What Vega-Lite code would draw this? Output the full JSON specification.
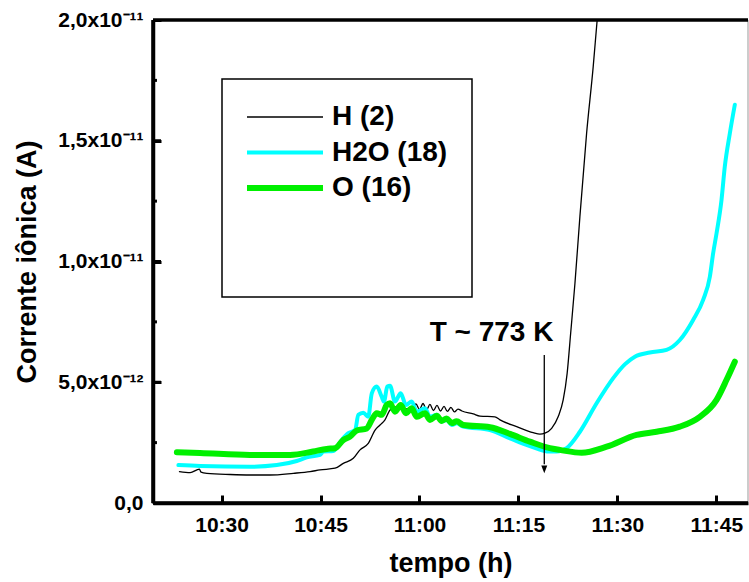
{
  "$schema": "https://vega.github.io/schema/vega-lite/v6.json",
  "width": 595,
  "height": 483,
  "autosize": {"type": "none"},
  "padding": {"left": 153, "top": 20, "right": 1, "bottom": 79},
  "config": {
    "view": {"stroke": null},
    "font": "Liberation Sans",
    "axis": {
      "grid": false,
      "zindex": 1,
      "domainColor": "black",
      "domainWidth": 3.5,
      "tickColor": "black",
      "tickWidth": 3,
      "labelFont": "Liberation Sans",
      "labelFontWeight": "bold",
      "labelFontSize": 21,
      "labelColor": "black",
      "labelOverlap": false,
      "titleFont": "Liberation Sans",
      "titleFontWeight": "bold",
      "titleFontSize": 27,
      "titleColor": "black"
    },
    "legend": {"strokeWidth": 1.5}
  },
  "data": {
    "format": {"parse": {"t": "date:'%H:%M:%S'"}},
    "values": [
      {"ion": "H (2)", "t": "10:23:37", "corrente": 1.30e-12},
      {"ion": "H (2)", "t": "10:25:14", "corrente": 1.26e-12},
      {"ion": "H (2)", "t": "10:26:38", "corrente": 1.40e-12},
      {"ion": "H (2)", "t": "10:26:53", "corrente": 1.28e-12},
      {"ion": "H (2)", "t": "10:27:46", "corrente": 1.23e-12},
      {"ion": "H (2)", "t": "10:31:17", "corrente": 1.18e-12},
      {"ion": "H (2)", "t": "10:34:19", "corrente": 1.16e-12},
      {"ion": "H (2)", "t": "10:37:21", "corrente": 1.16e-12},
      {"ion": "H (2)", "t": "10:40:53", "corrente": 1.23e-12},
      {"ion": "H (2)", "t": "10:43:25", "corrente": 1.30e-12},
      {"ion": "H (2)", "t": "10:44:55", "corrente": 1.37e-12},
      {"ion": "H (2)", "t": "10:47:12", "corrente": 1.44e-12},
      {"ion": "H (2)", "t": "10:48:27", "corrente": 1.64e-12},
      {"ion": "H (2)", "t": "10:49:58", "corrente": 1.85e-12},
      {"ion": "H (2)", "t": "10:50:59", "corrente": 2.20e-12},
      {"ion": "H (2)", "t": "10:52:14", "corrente": 2.47e-12},
      {"ion": "H (2)", "t": "10:53:16", "corrente": 3.02e-12},
      {"ion": "H (2)", "t": "10:54:01", "corrente": 3.23e-12},
      {"ion": "H (2)", "t": "10:54:46", "corrente": 3.44e-12},
      {"ion": "H (2)", "t": "10:55:32", "corrente": 3.85e-12},
      {"ion": "H (2)", "t": "10:56:33", "corrente": 3.99e-12},
      {"ion": "H (2)", "t": "10:57:30", "corrente": 3.89e-12},
      {"ion": "H (2)", "t": "10:58:34", "corrente": 3.92e-12},
      {"ion": "H (2)", "t": "10:59:28", "corrente": 4.10e-12},
      {"ion": "H (2)", "t": "11:00:00", "corrente": 3.87e-12},
      {"ion": "H (2)", "t": "11:00:32", "corrente": 4.12e-12},
      {"ion": "H (2)", "t": "11:01:04", "corrente": 3.85e-12},
      {"ion": "H (2)", "t": "11:01:35", "corrente": 4.08e-12},
      {"ion": "H (2)", "t": "11:02:07", "corrente": 3.83e-12},
      {"ion": "H (2)", "t": "11:02:39", "corrente": 4.04e-12},
      {"ion": "H (2)", "t": "11:03:11", "corrente": 3.81e-12},
      {"ion": "H (2)", "t": "11:03:43", "corrente": 4.00e-12},
      {"ion": "H (2)", "t": "11:04:14", "corrente": 3.79e-12},
      {"ion": "H (2)", "t": "11:04:46", "corrente": 3.96e-12},
      {"ion": "H (2)", "t": "11:05:18", "corrente": 3.77e-12},
      {"ion": "H (2)", "t": "11:05:50", "corrente": 3.89e-12},
      {"ion": "H (2)", "t": "11:06:26", "corrente": 3.81e-12},
      {"ion": "H (2)", "t": "11:08:09", "corrente": 3.69e-12},
      {"ion": "H (2)", "t": "11:09:10", "corrente": 3.60e-12},
      {"ion": "H (2)", "t": "11:11:26", "corrente": 3.57e-12},
      {"ion": "H (2)", "t": "11:12:12", "corrente": 3.44e-12},
      {"ion": "H (2)", "t": "11:14:44", "corrente": 3.16e-12},
      {"ion": "H (2)", "t": "11:17:14", "corrente": 2.91e-12},
      {"ion": "H (2)", "t": "11:18:16", "corrente": 2.85e-12},
      {"ion": "H (2)", "t": "11:19:01", "corrente": 2.89e-12},
      {"ion": "H (2)", "t": "11:20:02", "corrente": 3.09e-12},
      {"ion": "H (2)", "t": "11:21:02", "corrente": 3.58e-12},
      {"ion": "H (2)", "t": "11:21:47", "corrente": 4.27e-12},
      {"ion": "H (2)", "t": "11:22:23", "corrente": 5.37e-12},
      {"ion": "H (2)", "t": "11:22:55", "corrente": 7.03e-12},
      {"ion": "H (2)", "t": "11:23:34", "corrente": 9.10e-12},
      {"ion": "H (2)", "t": "11:24:19", "corrente": 11.86e-12},
      {"ion": "H (2)", "t": "11:25:20", "corrente": 15.31e-12},
      {"ion": "H (2)", "t": "11:26:20", "corrente": 18.07e-12},
      {"ion": "H (2)", "t": "11:26:56", "corrente": 20.00e-12},
      {"ion": "H (2)", "t": "11:27:21", "corrente": 21.25e-12},

      {"ion": "H2O (18)", "t": "10:23:27", "corrente": 1.57e-12},
      {"ion": "H2O (18)", "t": "10:26:44", "corrente": 1.53e-12},
      {"ion": "H2O (18)", "t": "10:34:19", "corrente": 1.50e-12},
      {"ion": "H2O (18)", "t": "10:38:22", "corrente": 1.57e-12},
      {"ion": "H2O (18)", "t": "10:41:23", "corrente": 1.74e-12},
      {"ion": "H2O (18)", "t": "10:42:55", "corrente": 1.89e-12},
      {"ion": "H2O (18)", "t": "10:44:55", "corrente": 1.99e-12},
      {"ion": "H2O (18)", "t": "10:45:25", "corrente": 2.13e-12},
      {"ion": "H2O (18)", "t": "10:46:56", "corrente": 2.15e-12},
      {"ion": "H2O (18)", "t": "10:48:13", "corrente": 2.61e-12},
      {"ion": "H2O (18)", "t": "10:49:13", "corrente": 2.89e-12},
      {"ion": "H2O (18)", "t": "10:50:14", "corrente": 3.02e-12},
      {"ion": "H2O (18)", "t": "10:50:44", "corrente": 3.65e-12},
      {"ion": "H2O (18)", "t": "10:51:29", "corrente": 3.74e-12},
      {"ion": "H2O (18)", "t": "10:52:14", "corrente": 3.57e-12},
      {"ion": "H2O (18)", "t": "10:52:46", "corrente": 4.54e-12},
      {"ion": "H2O (18)", "t": "10:53:31", "corrente": 4.82e-12},
      {"ion": "H2O (18)", "t": "10:54:16", "corrente": 4.40e-12},
      {"ion": "H2O (18)", "t": "10:54:37", "corrente": 4.20e-12},
      {"ion": "H2O (18)", "t": "10:55:07", "corrente": 4.82e-12},
      {"ion": "H2O (18)", "t": "10:55:32", "corrente": 4.85e-12},
      {"ion": "H2O (18)", "t": "10:56:17", "corrente": 4.20e-12},
      {"ion": "H2O (18)", "t": "10:57:09", "corrente": 4.54e-12},
      {"ion": "H2O (18)", "t": "10:57:57", "corrente": 4.06e-12},
      {"ion": "H2O (18)", "t": "10:58:49", "corrente": 4.20e-12},
      {"ion": "H2O (18)", "t": "10:59:35", "corrente": 3.78e-12},
      {"ion": "H2O (18)", "t": "11:00:50", "corrente": 3.92e-12},
      {"ion": "H2O (18)", "t": "11:01:35", "corrente": 3.57e-12},
      {"ion": "H2O (18)", "t": "11:02:37", "corrente": 3.65e-12},
      {"ion": "H2O (18)", "t": "11:03:22", "corrente": 3.37e-12},
      {"ion": "H2O (18)", "t": "11:04:07", "corrente": 3.44e-12},
      {"ion": "H2O (18)", "t": "11:04:53", "corrente": 3.23e-12},
      {"ion": "H2O (18)", "t": "11:05:38", "corrente": 3.30e-12},
      {"ion": "H2O (18)", "t": "11:06:38", "corrente": 3.16e-12},
      {"ion": "H2O (18)", "t": "11:10:41", "corrente": 3.02e-12},
      {"ion": "H2O (18)", "t": "11:13:43", "corrente": 2.68e-12},
      {"ion": "H2O (18)", "t": "11:16:44", "corrente": 2.36e-12},
      {"ion": "H2O (18)", "t": "11:19:46", "corrente": 2.13e-12},
      {"ion": "H2O (18)", "t": "11:20:47", "corrente": 2.13e-12},
      {"ion": "H2O (18)", "t": "11:22:18", "corrente": 2.27e-12},
      {"ion": "H2O (18)", "t": "11:24:19", "corrente": 2.95e-12},
      {"ion": "H2O (18)", "t": "11:26:51", "corrente": 4.13e-12},
      {"ion": "H2O (18)", "t": "11:29:22", "corrente": 5.17e-12},
      {"ion": "H2O (18)", "t": "11:31:10", "corrente": 5.75e-12},
      {"ion": "H2O (18)", "t": "11:32:39", "corrente": 6.06e-12},
      {"ion": "H2O (18)", "t": "11:34:55", "corrente": 6.23e-12},
      {"ion": "H2O (18)", "t": "11:37:27", "corrente": 6.34e-12},
      {"ion": "H2O (18)", "t": "11:39:28", "corrente": 6.75e-12},
      {"ion": "H2O (18)", "t": "11:41:29", "corrente": 7.58e-12},
      {"ion": "H2O (18)", "t": "11:43:00", "corrente": 8.41e-12},
      {"ion": "H2O (18)", "t": "11:44:01", "corrente": 9.37e-12},
      {"ion": "H2O (18)", "t": "11:44:31", "corrente": 10.34e-12},
      {"ion": "H2O (18)", "t": "11:45:02", "corrente": 11.17e-12},
      {"ion": "H2O (18)", "t": "11:45:47", "corrente": 12.55e-12},
      {"ion": "H2O (18)", "t": "11:46:17", "corrente": 13.93e-12},
      {"ion": "H2O (18)", "t": "11:47:03", "corrente": 15.31e-12},
      {"ion": "H2O (18)", "t": "11:47:48", "corrente": 16.49e-12},

      {"ion": "O (16)", "t": "10:23:13", "corrente": 2.10e-12},
      {"ion": "O (16)", "t": "10:26:44", "corrente": 2.07e-12},
      {"ion": "O (16)", "t": "10:34:19", "corrente": 1.99e-12},
      {"ion": "O (16)", "t": "10:40:23", "corrente": 1.99e-12},
      {"ion": "O (16)", "t": "10:43:52", "corrente": 2.13e-12},
      {"ion": "O (16)", "t": "10:45:56", "corrente": 2.24e-12},
      {"ion": "O (16)", "t": "10:47:12", "corrente": 2.27e-12},
      {"ion": "O (16)", "t": "10:48:27", "corrente": 2.61e-12},
      {"ion": "O (16)", "t": "10:49:28", "corrente": 2.75e-12},
      {"ion": "O (16)", "t": "10:50:29", "corrente": 3.00e-12},
      {"ion": "O (16)", "t": "10:52:00", "corrente": 3.09e-12},
      {"ion": "O (16)", "t": "10:52:46", "corrente": 3.44e-12},
      {"ion": "O (16)", "t": "10:53:31", "corrente": 3.72e-12},
      {"ion": "O (16)", "t": "10:54:16", "corrente": 3.65e-12},
      {"ion": "O (16)", "t": "10:55:02", "corrente": 4.06e-12},
      {"ion": "O (16)", "t": "10:55:32", "corrente": 4.13e-12},
      {"ion": "O (16)", "t": "10:56:17", "corrente": 3.78e-12},
      {"ion": "O (16)", "t": "10:57:09", "corrente": 4.06e-12},
      {"ion": "O (16)", "t": "10:57:57", "corrente": 3.72e-12},
      {"ion": "O (16)", "t": "10:58:49", "corrente": 3.92e-12},
      {"ion": "O (16)", "t": "10:59:35", "corrente": 3.57e-12},
      {"ion": "O (16)", "t": "11:00:50", "corrente": 3.72e-12},
      {"ion": "O (16)", "t": "11:01:35", "corrente": 3.44e-12},
      {"ion": "O (16)", "t": "11:02:37", "corrente": 3.61e-12},
      {"ion": "O (16)", "t": "11:03:22", "corrente": 3.40e-12},
      {"ion": "O (16)", "t": "11:04:07", "corrente": 3.50e-12},
      {"ion": "O (16)", "t": "11:04:53", "corrente": 3.31e-12},
      {"ion": "O (16)", "t": "11:05:38", "corrente": 3.38e-12},
      {"ion": "O (16)", "t": "11:06:38", "corrente": 3.23e-12},
      {"ion": "O (16)", "t": "11:10:41", "corrente": 3.14e-12},
      {"ion": "O (16)", "t": "11:13:43", "corrente": 2.86e-12},
      {"ion": "O (16)", "t": "11:16:44", "corrente": 2.54e-12},
      {"ion": "O (16)", "t": "11:19:46", "corrente": 2.27e-12},
      {"ion": "O (16)", "t": "11:21:17", "corrente": 2.20e-12},
      {"ion": "O (16)", "t": "11:24:35", "corrente": 2.08e-12},
      {"ion": "O (16)", "t": "11:28:22", "corrente": 2.33e-12},
      {"ion": "O (16)", "t": "11:32:55", "corrente": 2.82e-12},
      {"ion": "O (16)", "t": "11:35:56", "corrente": 2.95e-12},
      {"ion": "O (16)", "t": "11:39:28", "corrente": 3.16e-12},
      {"ion": "O (16)", "t": "11:42:30", "corrente": 3.57e-12},
      {"ion": "O (16)", "t": "11:45:02", "corrente": 4.27e-12},
      {"ion": "O (16)", "t": "11:46:33", "corrente": 5.10e-12},
      {"ion": "O (16)", "t": "11:47:48", "corrente": 5.85e-12}
    ]
  },
  "layer": [
    {
      "mark": {"type": "line", "clip": true, "strokeJoin": "round", "strokeCap": "round", "interpolate": "monotone"},
      "encoding": {
        "x": {
          "field": "t", "type": "temporal",
          "scale": {"domain": [
            {"year": 1900, "month": 1, "date": 1, "hours": 10, "minutes": 19, "seconds": 36},
            {"year": 1900, "month": 1, "date": 1, "hours": 11, "minutes": 49, "seconds": 48}
          ]},
          "axis": {
            "orient": "bottom",
            "title": "tempo (h)",
            "titlePadding": 15,
            "format": "%H:%M",
            "values": [
              {"year": 1900, "month": 1, "date": 1, "hours": 10, "minutes": 30},
              {"year": 1900, "month": 1, "date": 1, "hours": 10, "minutes": 45},
              {"year": 1900, "month": 1, "date": 1, "hours": 11, "minutes": 0},
              {"year": 1900, "month": 1, "date": 1, "hours": 11, "minutes": 15},
              {"year": 1900, "month": 1, "date": 1, "hours": 11, "minutes": 30},
              {"year": 1900, "month": 1, "date": 1, "hours": 11, "minutes": 45}
            ],
            "tickSize": -8,
            "labelPadding": 19
          }
        },
        "y": {
          "field": "corrente", "type": "quantitative",
          "scale": {"domain": [0, 2e-11], "nice": false, "zero": true},
          "axis": {
            "orient": "left",
            "title": "Corrente iônica (A)",
            "titlePadding": 16,
            "values": [0, 5e-12, 1e-11, 1.5e-11, 2e-11],
            "labelExpr": "datum.value == 0 ? '0,0' : (datum.value < 9e-12 ? replace(format(datum.value * 1e12, '.1f'), '.', ',') + 'x10\u207b\u00b9\u00b2' : replace(format(datum.value * 1e11, '.1f'), '.', ',') + 'x10\u207b\u00b9\u00b9')",
            "tickSize": -8,
            "labelPadding": 18
          }
        },
        "color": {
          "field": "ion", "type": "nominal",
          "scale": {"domain": ["H (2)", "H2O (18)", "O (16)"], "range": ["#000000", "#00FFFF", "#00F000"]},
          "legend": {
            "orient": "none",
            "legendX": 69,
            "legendY": 59,
            "title": " ",
            "titleOrient": "bottom",
            "titleFontSize": 28,
            "titlePadding": 43,
            "symbolType": "M0,0H76",
            "symbolSize": 4,
            "symbolOffset": -13,
            "labelFont": "Liberation Sans",
            "labelFontWeight": "bold",
            "labelFontSize": 28,
            "labelColor": "black",
            "labelOffset": 71,
            "rowPadding": 7.5,
            "padding": 24,
            "strokeColor": "black"
          }
        },
        "strokeWidth": {
          "field": "ion", "type": "nominal",
          "scale": {"type": "ordinal", "domain": ["H (2)", "H2O (18)", "O (16)"], "range": [1.3, 4, 6]}
        }
      }
    },
    {
      "data": {
        "format": {"parse": {"t": "date:'%H:%M:%S'"}},
        "values": [{"t": "11:18:55", "topo": 6.13e-12, "base": 1.6e-12}]
      },
      "mark": {"type": "rule", "color": "black", "strokeWidth": 1.3},
      "encoding": {
        "x": {"field": "t", "type": "temporal", "axis": null},
        "y": {"field": "topo", "type": "quantitative", "axis": null},
        "y2": {"field": "base"}
      }
    },
    {
      "data": {
        "format": {"parse": {"t": "date:'%H:%M:%S'"}},
        "values": [{"t": "11:18:55", "ponta": 1.23e-12}]
      },
      "mark": {"type": "point", "shape": "M-1,-2.6L1,-2.6L0,0Z", "filled": true, "color": "black", "opacity": 1, "size": 36},
      "encoding": {
        "x": {"field": "t", "type": "temporal", "axis": null},
        "y": {"field": "ponta", "type": "quantitative", "axis": null}
      }
    },
    {
      "data": {
        "format": {"parse": {"t": "date:'%H:%M:%S'"}},
        "values": [{"t": "11:10:55", "pos": 7.04e-12, "rotulo": "T ~ 773 K"}]
      },
      "mark": {"type": "text", "font": "Liberation Sans", "fontSize": 28, "fontWeight": "bold", "color": "black", "baseline": "middle", "align": "center"},
      "encoding": {
        "x": {"field": "t", "type": "temporal", "axis": null},
        "y": {"field": "pos", "type": "quantitative", "axis": null},
        "text": {"field": "rotulo"}
      }
    },
    {
      "data": {
        "format": {"parse": {"t": "date:'%H:%M:%S'"}},
        "values": [{"t": "10:30:00"}, {"t": "10:45:00"}, {"t": "11:00:00"}, {"t": "11:15:00"}, {"t": "11:30:00"}, {"t": "11:45:00"}]
      },
      "mark": {"type": "rule", "color": "black", "strokeWidth": 3},
      "encoding": {
        "x": {"field": "t", "type": "temporal", "axis": null},
        "y": {"datum": 0, "type": "quantitative", "axis": null},
        "y2": {"datum": 3.3e-13}
      }
    },
    {
      "data": {
        "format": {"parse": {"t": "date:'%H:%M:%S'"}},
        "values": [{"t": "10:22:30"}, {"t": "10:37:30"}, {"t": "10:52:30"}, {"t": "11:07:30"}, {"t": "11:22:30"}, {"t": "11:37:30"}]
      },
      "mark": {"type": "rule", "color": "black", "strokeWidth": 3},
      "encoding": {
        "x": {"field": "t", "type": "temporal", "axis": null},
        "y": {"datum": 0, "type": "quantitative", "axis": null},
        "y2": {"datum": 1.7e-13}
      }
    },
    {
      "data": {
        "format": {"parse": {"t": "date:'%H:%M:%S'"}},
        "values": [{"t": "10:30:00"}, {"t": "10:45:00"}, {"t": "11:00:00"}, {"t": "11:15:00"}, {"t": "11:30:00"}, {"t": "11:45:00"}]
      },
      "mark": {"type": "rule", "color": "black", "strokeWidth": 3},
      "encoding": {
        "x": {"field": "t", "type": "temporal", "axis": null},
        "y": {"datum": 2e-11, "type": "quantitative", "axis": null},
        "y2": {"datum": 1.967e-11}
      }
    },
    {
      "data": {
        "format": {"parse": {"t": "date:'%H:%M:%S'"}},
        "values": [{"t": "10:22:30"}, {"t": "10:37:30"}, {"t": "10:52:30"}, {"t": "11:07:30"}, {"t": "11:22:30"}, {"t": "11:37:30"}]
      },
      "mark": {"type": "rule", "color": "black", "strokeWidth": 3},
      "encoding": {
        "x": {"field": "t", "type": "temporal", "axis": null},
        "y": {"datum": 2e-11, "type": "quantitative", "axis": null},
        "y2": {"datum": 1.983e-11}
      }
    },
    {
      "data": {"values": [{"v": 5e-12}, {"v": 1e-11}, {"v": 1.5e-11}]},
      "mark": {"type": "rule", "color": "black", "strokeWidth": 3},
      "encoding": {
        "y": {"field": "v", "type": "quantitative", "axis": null},
        "x": {"datum": {"year": 1900, "month": 1, "date": 1, "hours": 10, "minutes": 19, "seconds": 36}, "type": "temporal", "axis": null},
        "x2": {"datum": {"year": 1900, "month": 1, "date": 1, "hours": 10, "minutes": 20, "seconds": 49}}
      }
    },
    {
      "data": {"values": [{"v": 2.5e-12}, {"v": 7.5e-12}, {"v": 1.25e-11}, {"v": 1.75e-11}]},
      "mark": {"type": "rule", "color": "black", "strokeWidth": 3},
      "encoding": {
        "y": {"field": "v", "type": "quantitative", "axis": null},
        "x": {"datum": {"year": 1900, "month": 1, "date": 1, "hours": 10, "minutes": 19, "seconds": 36}, "type": "temporal", "axis": null},
        "x2": {"datum": {"year": 1900, "month": 1, "date": 1, "hours": 10, "minutes": 20, "seconds": 12}}
      }
    },
    {
      "data": {"values": [{"lado": "esquerda"}]},
      "mark": {"type": "rule", "color": "black", "strokeWidth": 3.5},
      "encoding": {
        "x": {"datum": {"year": 1900, "month": 1, "date": 1, "hours": 10, "minutes": 19, "seconds": 36}, "type": "temporal", "axis": null},
        "y": {"datum": 0, "type": "quantitative", "axis": null},
        "y2": {"datum": 2e-11}
      }
    },
    {
      "data": {"values": [{"lado": "direita"}]},
      "mark": {"type": "rule", "color": "#999999", "strokeWidth": 1},
      "encoding": {
        "x": {"datum": {"year": 1900, "month": 1, "date": 1, "hours": 11, "minutes": 49, "seconds": 48}, "type": "temporal", "axis": null},
        "y": {"datum": 0, "type": "quantitative", "axis": null},
        "y2": {"datum": 2e-11}
      }
    },
    {
      "data": {"values": [{"lado": "base"}]},
      "mark": {"type": "rule", "color": "black", "strokeWidth": 3.5},
      "encoding": {
        "y": {"datum": 0, "type": "quantitative", "axis": null},
        "x": {"datum": {"year": 1900, "month": 1, "date": 1, "hours": 10, "minutes": 19, "seconds": 36}, "type": "temporal", "axis": null},
        "x2": {"datum": {"year": 1900, "month": 1, "date": 1, "hours": 11, "minutes": 49, "seconds": 48}}
      }
    },
    {
      "data": {"values": [{"lado": "topo"}]},
      "mark": {"type": "rule", "color": "black", "strokeWidth": 3.5},
      "encoding": {
        "y": {"datum": 2e-11, "type": "quantitative", "axis": null},
        "x": {"datum": {"year": 1900, "month": 1, "date": 1, "hours": 10, "minutes": 19, "seconds": 36}, "type": "temporal", "axis": null},
        "x2": {"datum": {"year": 1900, "month": 1, "date": 1, "hours": 11, "minutes": 49, "seconds": 48}}
      }
    }
  ],
  "resolve": {"axis": {"x": "independent", "y": "independent"}}
}
